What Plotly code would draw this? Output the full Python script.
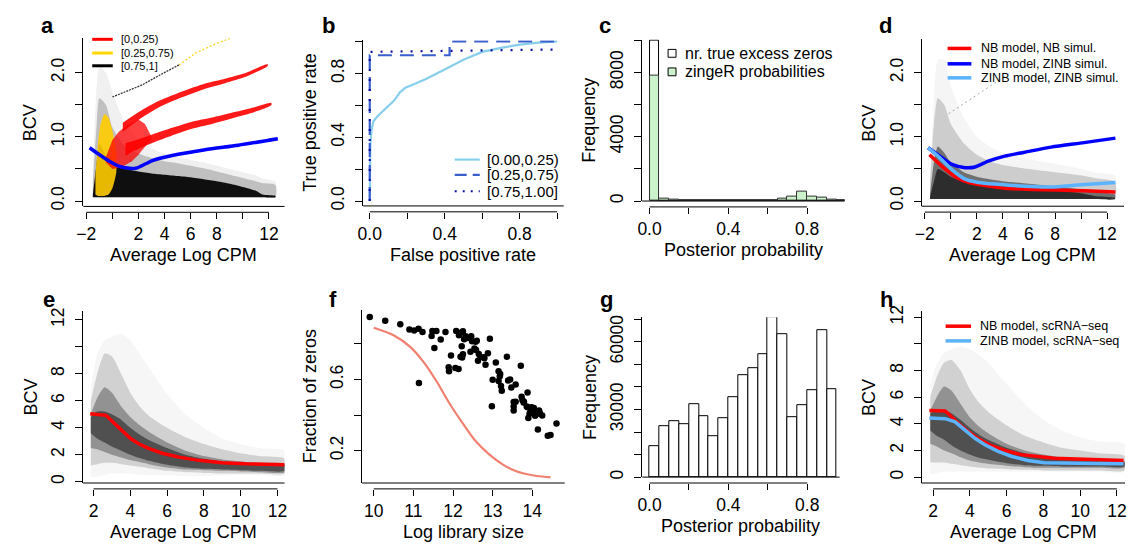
import plotly.graph_objects as go

W, H = 1128, 552
FONT = "Liberation Sans, Arial, sans-serif"
TICK = 17.5
TITLE = 18

# ---------------- data: panel a ----------------
a_fit_x = [-1.75, -0.99, -0.23, 0.53, 1.3, 1.8, 2.56, 3.06, 4.58, 7.11, 9.65, 12.68]
a_fit_y = [0.83, 0.72, 0.62, 0.54, 0.51, 0.51, 0.58, 0.63, 0.71, 0.80, 0.87, 0.97]
a_cloud_x = [-1.5, -1.2, -1.0, -0.5, 0, 1, 2, 3, 4, 5, 6, 7, 8, 9, 10, 11, 11.5, 12.5]
a_lo = [0.06, 0.06, 0.06, 0.06, 0.06, 0.06, 0.06, 0.06, 0.06, 0.06, 0.06, 0.06, 0.06, 0.06, 0.06, 0.06, 0.06, 0.06]
a_faint_hi = [0.5, 1.8, 2.1, 2.0, 1.7, 1.2, 0.95, 0.82, 0.74, 0.69, 0.64, 0.6, 0.55, 0.5, 0.45, 0.4, 0.35, 0.3]
a_halo_hi = [0.3, 1.2, 1.6, 1.5, 1.15, 0.85, 0.74, 0.67, 0.62, 0.59, 0.55, 0.51, 0.46, 0.41, 0.36, 0.31, 0.28, 0.25]
a_core_hi = [0.1, 0.6, 0.9, 0.7, 0.55, 0.5, 0.46, 0.43, 0.41, 0.39, 0.37, 0.34, 0.31, 0.27, 0.22, 0.16, 0.1, 0.08]
a_yel_x = [-1.3, -1.1, -0.9, -0.6, -0.3, 0.0, 0.3]
a_yel_lo = [0.1, 0.08, 0.08, 0.08, 0.1, 0.2, 0.45]
a_yel_hi = [0.4, 0.9, 1.2, 1.35, 1.3, 1.1, 0.75]
a_red_x = [-0.5, 0.0, 0.5, 1.0, 1.5, 2.0, 2.5, 3.0]
a_red_lo = [0.6, 0.5, 0.52, 0.56, 0.62, 0.72, 0.85, 0.97]
a_red_hi = [0.68, 0.95, 1.08, 1.16, 1.22, 1.27, 1.2, 1.0]
a_up_x = [0.8, 2.05, 3.57, 5.34, 7.11, 8.63, 10.15, 11.9]
a_up_c = [1.15, 1.33, 1.51, 1.66, 1.79, 1.87, 1.96, 2.12]
a_up_w = [0.07, 0.06, 0.05, 0.045, 0.04, 0.035, 0.03, 0.015]
a_lo_x = [1.0, 1.54, 3.06, 4.58, 6.1, 7.62, 9.14, 10.66, 12.18]
a_lo_c = [0.8, 0.85, 0.97, 1.08, 1.18, 1.25, 1.33, 1.41, 1.51]
a_lo_w = [0.1, 0.08, 0.065, 0.06, 0.055, 0.05, 0.045, 0.04, 0.02]
a_diag_x = [0.0, 1.0, 2.3, 3.7, 5.1]
a_diag_y = [1.62, 1.7, 1.81, 1.97, 2.12]
a_diag2_x = [5.1, 6.35, 7.7, 9.1]
a_diag2_y = [2.12, 2.30, 2.43, 2.54]
a_groups = ["[0,0.25)", "[0.25,0.75)", "[0.75,1]"]

# ---------------- data: panel b ----------------
b_low_fpr = [0, 0.003, 0.01, 0.02, 0.04, 0.07, 0.1, 0.13, 0.16, 0.19, 0.22, 0.3, 0.4, 0.5, 0.6, 0.7, 0.8, 0.9, 1.0]
b_low_tpr = [0, 0.35, 0.45, 0.5, 0.53, 0.565, 0.6, 0.63, 0.68, 0.71, 0.725, 0.765, 0.825, 0.885, 0.935, 0.96, 0.98, 0.993, 1.0]
b_mid_fpr = [0, 0, 0.426, 0.426, 1.0]
b_mid_tpr = [0, 0.914, 0.914, 1.0, 1.0]
b_high_fpr = [0, 0, 1.0]
b_high_tpr = [0, 0.935, 0.95]
b_groups = ["[0.00,0.25)", "[0.25,0.75)", "[0.75,1.00]"]

# ---------------- data: panel c ----------------
c_mid = [0.025, 0.075, 0.125, 0.175, 0.225, 0.275, 0.325, 0.375, 0.425, 0.475,
         0.525, 0.575, 0.625, 0.675, 0.725, 0.775, 0.825, 0.875, 0.925, 0.975]
c_true = [10000, 0, 0, 0, 0, 0, 0, 0, 0, 0, 0, 0, 0, 0, 0, 0, 0, 0, 0, 0]
c_zinger = [7800, 160, 60, 40, 30, 25, 25, 25, 25, 25, 25, 40, 50, 140, 285, 590, 245, 225, 80, 20]
c_names = ["nr. true excess zeros", "zingeR probabilities"]

# ---------------- data: panel d ----------------
d_cloud_x = [-1.6, -1.3, -1.0, -0.5, 0, 1, 2, 3, 4, 6, 8, 10, 11, 12.6]
d_lo = [0.03, 0.03, 0.03, 0.03, 0.03, 0.03, 0.03, 0.03, 0.03, 0.03, 0.03, 0.03, 0.03, 0.03]
d_dense_hi = [0.06, 0.3, 0.5, 0.45, 0.38, 0.3, 0.27, 0.25, 0.23, 0.2, 0.17, 0.12, 0.08, 0.05]
d_core_hi = [0.1, 0.6, 0.85, 0.75, 0.6, 0.45, 0.38, 0.34, 0.31, 0.27, 0.23, 0.18, 0.14, 0.1]
d_halo_hi = [0.3, 1.2, 1.6, 1.5, 1.2, 0.9, 0.72, 0.62, 0.56, 0.5, 0.45, 0.4, 0.36, 0.3]
d_faint_hi = [0.4, 1.6, 2.2, 2.2, 1.8, 1.3, 1.0, 0.85, 0.75, 0.65, 0.58, 0.5, 0.45, 0.4]
d_diag_x = [-0.17, 4.14]
d_diag_y = [1.36, 1.94]
d_nb_x = [-1.64, -0.68, 0.34, 1.35, 2.62, 4.14, 6.17, 8.2, 10.23, 12.64]
d_nb_y = [0.72, 0.54, 0.38, 0.29, 0.24, 0.20, 0.18, 0.17, 0.16, 0.14]
d_zi_x = [-1.75, -0.93, 0.08, 1.10, 1.86, 2.87, 4.14, 5.66, 7.70, 10.23, 12.64]
d_zi_y = [0.83, 0.71, 0.57, 0.52, 0.53, 0.62, 0.70, 0.76, 0.84, 0.91, 0.98]
d_zz_x = [-1.75, -0.93, 0.08, 1.10, 2.11, 3.63, 5.66, 7.70, 9.73, 12.64]
d_zz_y = [0.83, 0.69, 0.49, 0.34, 0.29, 0.26, 0.23, 0.22, 0.25, 0.29]
d_names = ["NB model, NB simul.", "NB model, ZINB simul.", "ZINB model, ZINB simul."]

# ---------------- data: panel e ----------------
e_x = [1.85, 2.2, 2.6, 3.0, 3.5, 4.0, 4.5, 5.0, 6.0, 7.0, 8.0, 9.0, 10.0, 11.0, 12.4]
e_faint_lo = [0.3, 0.4, 0.5, 0.6, 0.6, 0.6, 0.5, 0.5, 0.45, 0.4, 0.4, 0.45, 0.5, 0.5, 0.5]
e_faint_hi = [7.0, 9.5, 10.5, 10.8, 11.0, 10.5, 9.5, 8.5, 6.5, 5.0, 4.0, 3.2, 2.8, 2.5, 2.3]
e_mid_lo = [1.2, 1.3, 1.4, 1.4, 1.3, 1.2, 1.1, 1.0, 0.8, 0.7, 0.65, 0.6, 0.6, 0.6, 0.6]
e_mid_hi = [6.0, 8.0, 9.5, 9.3, 8.0, 6.6, 5.6, 4.9, 4.0, 3.3, 2.8, 2.4, 2.1, 1.9, 1.7]
e_core_lo = [2.5, 2.4, 2.2, 2.0, 1.8, 1.6, 1.45, 1.3, 1.05, 0.9, 0.85, 0.8, 0.75, 0.7, 0.7]
e_core_hi = [5.0, 6.2, 7.0, 6.6, 5.6, 4.8, 4.2, 3.7, 2.9, 2.3, 1.9, 1.65, 1.5, 1.4, 1.3]
e_dense_lo = [3.6, 3.2, 2.9, 2.6, 2.3, 2.0, 1.75, 1.55, 1.25, 1.05, 0.95, 0.9, 0.85, 0.8, 0.8]
e_dense_hi = [4.8, 5.2, 5.2, 5.0, 4.6, 4.0, 3.5, 3.1, 2.5, 2.0, 1.7, 1.5, 1.4, 1.3, 1.25]
e_fit_x = [1.82, 2.68, 3.04, 3.58, 4.03, 4.48, 5.02, 5.74, 6.64, 7.72, 8.98, 10.24, 11.32, 12.40]
e_fit_y = [5.04, 4.92, 4.44, 3.71, 3.18, 2.79, 2.45, 2.11, 1.82, 1.58, 1.41, 1.33, 1.28, 1.26]

# ---------------- data: panel f ----------------
f_lib = [9.90, 10.29, 10.67, 10.90, 11.02, 11.13, 11.23, 11.46, 11.48, 11.58, 11.81, 11.69, 11.53, 11.14,
         11.89, 11.95, 12.08, 12.15, 12.19, 12.25, 12.28, 12.32, 12.36, 12.46, 12.48, 12.22, 12.19, 12.23,
         12.25, 12.44, 12.54, 12.57, 12.60, 12.58, 12.63, 12.65, 12.69, 12.78, 12.79, 12.82, 12.88, 12.93,
         12.06, 12.14, 11.90, 13.00, 13.08, 13.15, 13.15, 13.19, 13.18, 13.21, 13.23, 13.36, 13.39, 13.44,
         13.47, 13.58, 13.53, 13.53, 13.53, 13.58, 13.71, 13.73, 13.75, 13.78, 13.79, 13.88, 13.86, 13.90,
         13.93, 13.96, 13.98, 14.02, 14.04, 14.07, 14.08, 14.13, 14.14, 14.17, 14.19, 14.25, 12.98, 14.39,
         14.46, 14.61, 13.88]
f_zero = [0.95, 0.93, 0.91, 0.88, 0.875, 0.884, 0.866, 0.844, 0.872, 0.872, 0.866, 0.824, 0.776, 0.580,
          0.668, 0.734, 0.872, 0.848, 0.862, 0.870, 0.826, 0.842, 0.833, 0.842, 0.815, 0.787, 0.728, 0.723,
          0.741, 0.756, 0.774, 0.811, 0.817, 0.765, 0.705, 0.743, 0.728, 0.725, 0.719, 0.683, 0.747, 0.829,
          0.664, 0.659, 0.646, 0.598, 0.695, 0.646, 0.591, 0.631, 0.618, 0.563, 0.536, 0.728, 0.594, 0.600,
          0.554, 0.572, 0.473, 0.448, 0.426, 0.475, 0.677, 0.503, 0.484, 0.470, 0.475, 0.527, 0.448, 0.383,
          0.407, 0.426, 0.444, 0.440, 0.439, 0.396, 0.422, 0.407, 0.319, 0.426, 0.411, 0.398, 0.450, 0.284,
          0.288, 0.352, 0.444]
f_fit_x = [10.0, 10.5, 10.92, 11.25, 11.58, 11.92, 12.25, 12.58, 12.92, 13.25, 13.58, 14.0, 14.46]
f_fit_y = [0.890, 0.848, 0.783, 0.70, 0.591, 0.462, 0.352, 0.251, 0.178, 0.123, 0.086, 0.062, 0.05]

# ---------------- data: panel g ----------------
g_mid = [0.025, 0.075, 0.125, 0.175, 0.225, 0.275, 0.325, 0.375, 0.425, 0.475,
         0.525, 0.575, 0.625, 0.675, 0.725, 0.775, 0.825, 0.875, 0.925]
g_count = [13600, 22750, 24930, 23480, 32320, 26960, 17970, 25940, 35360, 45220,
           48410, 54490, 70870, 63330, 26670, 31740, 38410, 65070, 38840]

# ---------------- data: panel h ----------------
h_x = [1.85, 2.2, 2.6, 3.0, 3.5, 4.0, 4.5, 5.0, 6.0, 7.0, 8.0, 9.0, 10.0, 11.0, 12.4]
h_faint_lo = [0.2, 0.3, 0.4, 0.4, 0.4, 0.4, 0.4, 0.4, 0.4, 0.4, 0.4, 0.4, 0.4, 0.4, 0.4]
h_faint_hi = [7.0, 8.5, 9.3, 9.6, 9.8, 9.6, 9.2, 8.6, 7.0, 5.5, 4.3, 3.5, 3.0, 2.7, 2.5]
h_mid_lo = [1.1, 1.1, 1.1, 1.0, 0.9, 0.8, 0.7, 0.65, 0.6, 0.55, 0.5, 0.5, 0.5, 0.5, 0.5]
h_mid_hi = [6.0, 7.5, 8.6, 8.8, 8.0, 6.6, 5.6, 4.9, 3.9, 3.1, 2.6, 2.2, 2.0, 1.8, 1.6]
h_core_lo = [2.5, 2.3, 2.0, 1.8, 1.5, 1.25, 1.1, 1.0, 0.85, 0.75, 0.7, 0.7, 0.7, 0.7, 0.7]
h_core_hi = [5.0, 6.0, 6.8, 6.5, 5.5, 4.5, 3.8, 3.3, 2.5, 2.0, 1.7, 1.5, 1.4, 1.3, 1.2]
h_dense_lo = [3.5, 3.1, 2.8, 2.4, 2.0, 1.7, 1.45, 1.3, 1.05, 0.9, 0.85, 0.8, 0.8, 0.8, 0.8]
h_dense_hi = [4.8, 5.0, 5.0, 4.8, 4.3, 3.7, 3.2, 2.8, 2.2, 1.8, 1.5, 1.35, 1.3, 1.2, 1.15]
h_nb_x = [1.80, 2.66, 2.84, 3.38, 3.92, 4.46, 5.18, 5.90, 6.79, 7.69, 8.59, 9.85, 11.28, 12.36]
h_nb_y = [5.0, 4.96, 4.76, 4.02, 3.41, 2.87, 2.36, 2.01, 1.69, 1.55, 1.42, 1.37, 1.28, 1.25]
h_zi_x = [1.80, 2.66, 3.2, 3.74, 4.28, 4.82, 5.54, 6.25, 7.15, 8.05, 9.49, 10.92, 12.36]
h_zi_y = [4.44, 4.39, 4.15, 3.53, 2.92, 2.43, 1.94, 1.57, 1.25, 1.08, 1.03, 1.03, 1.0]
h_names = ["NB model, scRNA\u2212seq", "ZINB model, scRNA\u2212seq"]

# ---------------- ticks / titles ----------------
cpm_ticks = [-2, 0, 2, 4, 6, 8, 10, 12]
cpm_labels = ["\u22122", "", "2", "4", "6", "8", "", "12"]
bcv_ticks = [0, 0.5, 1, 1.5, 2]
bcv_labels = ["0.0", "", "1.0", "", "2.0"]
rate_ticks = [0, 0.2, 0.4, 0.6, 0.8, 1.0]
rate_labels = ["0.0", "", "0.4", "", "0.8", ""]
prob_ticks = [0, 0.2, 0.4, 0.6, 0.8]
prob_labels = ["0.0", "", "0.4", "", "0.8"]
c_freq_ticks = [0, 2000, 4000, 6000, 8000, 10000]
c_freq_labels = ["0", "", "4000", "", "8000", ""]
sc_cpm_ticks = [2, 4, 6, 8, 10, 12]
sc_cpm_labels = ["2", "4", "6", "8", "10", "12"]
sc_bcv_ticks = [0, 2, 4, 6, 8, 10, 12]
sc_bcv_labels = ["0", "2", "4", "6", "8", "", "12"]
lib_ticks = [10, 11, 12, 13, 14]
lib_labels = ["10", "11", "12", "13", "14"]
zero_ticks = [0.2, 0.4, 0.6, 0.8]
zero_labels = ["0.2", "", "0.6", ""]
g_freq_ticks = [0, 10000, 20000, 30000, 40000, 50000, 60000, 70000]
g_freq_labels = ["0", "", "", "30000", "", "", "60000", ""]

# ---------------- panel geometry (pixels: left, right, top, bottom) ----------------
PANELS = [
    dict(n=1, letter="a", box=(77, 280, 33, 204.5), xr=[-2.228, 13.193], yr=[-0.084, 2.534],
         xt=cpm_ticks, xl=cpm_labels, yt=bcv_ticks, yl=bcv_labels, xtitle="Average Log CPM", ytitle="BCV"),
    dict(n=2, letter="b", box=(359.3, 561.7, 35, 204), xr=[-0.0354, 1.035], yr=[-0.0305, 1.0076],
         xt=rate_ticks, xl=rate_labels, yt=rate_ticks, yl=rate_labels, xtitle="False positive rate", ytitle="True positive rate"),
    dict(n=3, letter="c", box=(640.7, 845, 34.3, 199), xr=[-0.0382, 0.990], yr=[0, 10034],
         xt=prob_ticks, xl=prob_labels, yt=c_freq_ticks, yl=c_freq_labels, xtitle="Posterior probability", ytitle="Frequency"),
    dict(n=4, letter="d", box=(922.7, 1127, 34, 204.3), xr=[-2.251, 13.3], yr=[-0.081, 2.519],
         xt=cpm_ticks, xl=cpm_labels, yt=bcv_ticks, yl=bcv_labels, xtitle="Average Log CPM", ytitle="BCV"),
    dict(n=5, letter="e", box=(76.7, 280, 311, 486.7), xr=[1.428, 12.38], yr=[-0.1, 12.68],
         xt=sc_cpm_ticks, xl=sc_cpm_labels, yt=sc_bcv_ticks, yl=sc_bcv_labels, xtitle="Average Log CPM", ytitle="BCV"),
    dict(n=6, letter="f", box=(358.3, 562.7, 310.3, 486.7), xr=[9.7075, 14.8175], yr=[0.0183, 0.9893],
         xt=lib_ticks, xl=lib_labels, yt=zero_ticks, yl=zero_labels, xtitle="Log library size", ytitle="Fraction of zeros"),
    dict(n=7, letter="g", box=(641, 840, 317.5, 480.7), xr=[-0.0367, 0.964], yr=[0, 70950],
         xt=prob_ticks, xl=prob_labels, yt=g_freq_ticks, yl=g_freq_labels, xtitle="Posterior probability", ytitle="Frequency"),
    dict(n=8, letter="h", box=(922.7, 1128, 311, 486.7), xr=[1.375, 12.44], yr=[-0.44, 12.49],
         xt=sc_cpm_ticks, xl=sc_cpm_labels, yt=sc_bcv_ticks, yl=sc_bcv_labels, xtitle="Average Log CPM", ytitle="BCV"),
]
GAP = 6  # x-axis line offset below the box

fig = go.Figure()


def axn(n):
    return ("x" if n == 1 else f"x{n}"), ("y" if n == 1 else f"y{n}")


def band(n, xs, lo, hi, color, shape="spline"):
    xa, ya = axn(n)
    ln = dict(width=0, shape=shape)
    if shape == "spline":
        ln["smoothing"] = 0.6
    fig.add_trace(go.Scatter(x=list(xs) + list(xs)[::-1], y=list(hi) + list(lo)[::-1],
                             mode="lines", line=ln, fill="toself", fillcolor=color,
                             hoverinfo="skip", showlegend=False, xaxis=xa, yaxis=ya))


def ribbon(n, xs, c, w, color):
    band(n, xs, [ci - wi for ci, wi in zip(c, w)], [ci + wi for ci, wi in zip(c, w)], color)


def curve(n, xs, ys, color, width, dash="solid", shape="linear", smoothing=1.0):
    xa, ya = axn(n)
    ln = dict(color=color, width=width, dash=dash, shape=shape)
    if shape == "spline":
        ln["smoothing"] = smoothing
    fig.add_trace(go.Scatter(x=xs, y=ys, mode="lines", line=ln, hoverinfo="skip",
                             showlegend=False, xaxis=xa, yaxis=ya))


# ---- panel a ----
band(1, a_cloud_x, a_lo, a_faint_hi, "rgba(0,0,0,0.06)")
band(1, a_cloud_x, a_lo, a_halo_hi, "rgba(0,0,0,0.2)")
band(1, a_cloud_x, a_lo, a_core_hi, "rgba(0,0,0,0.92)")
band(1, a_yel_x, a_yel_lo, a_yel_hi, "rgba(255,205,0,0.9)")
band(1, a_red_x, a_red_lo, a_red_hi, "rgba(255,0,0,0.75)", shape="linear")
ribbon(1, a_up_x, a_up_c, a_up_w, "rgba(255,0,0,0.9)")
ribbon(1, a_lo_x, a_lo_c, a_lo_w, "rgba(255,0,0,0.9)")
curve(1, a_diag_x, a_diag_y, "rgba(0,0,0,0.8)", 1.3, dash="2px,1px")
curve(1, a_diag2_x, a_diag2_y, "rgba(255,205,0,0.9)", 1.3, dash="2px,2px")
curve(1, a_fit_x, a_fit_y, "#0000FF", 3.5, shape="spline", smoothing=0.7)

# ---- panel b ----
curve(2, b_low_fpr, b_low_tpr, "#87CEEB", 2.2)
curve(2, b_mid_fpr, b_mid_tpr, "#3A5FCD", 2.2, dash="14px,8px")
curve(2, b_high_fpr, b_high_tpr, "#1010A0", 2.2, dash="2px,8px")

# ---- panel c ----
fig.add_trace(go.Bar(x=c_mid, y=c_true, width=0.05, marker=dict(color="white", line=dict(color="black", width=1)),
                     xaxis="x3", yaxis="y3", showlegend=False, hoverinfo="skip"))
fig.add_trace(go.Bar(x=c_mid, y=c_zinger, width=0.05, marker=dict(color="#CCF2CC", line=dict(color="#333333", width=1)),
                     xaxis="x3", yaxis="y3", showlegend=False, hoverinfo="skip"))

# ---- panel d ----
band(4, d_cloud_x, d_lo, d_faint_hi, "rgba(0,0,0,0.04)")
band(4, d_cloud_x, d_lo, d_halo_hi, "rgba(0,0,0,0.16)")
band(4, d_cloud_x, d_lo, d_core_hi, "rgba(0,0,0,0.45)")
band(4, d_cloud_x, d_lo, d_dense_hi, "rgba(0,0,0,0.6)")
curve(4, d_diag_x, d_diag_y, "rgba(0,0,0,0.35)", 1, dash="2px,3px")
curve(4, d_nb_x, d_nb_y, "#FF0000", 3.5, shape="spline", smoothing=0.7)
curve(4, d_zi_x, d_zi_y, "#0000FF", 3.5, shape="spline", smoothing=0.7)
curve(4, d_zz_x, d_zz_y, "#5CB3FF", 3.5, shape="spline", smoothing=0.7)

# ---- panel e ----
band(5, e_x, e_faint_lo, e_faint_hi, "rgba(0,0,0,0.035)")
band(5, e_x, e_mid_lo, e_mid_hi, "rgba(0,0,0,0.15)")
band(5, e_x, e_core_lo, e_core_hi, "rgba(0,0,0,0.3)")
band(5, e_x, e_dense_lo, e_dense_hi, "rgba(0,0,0,0.45)")
curve(5, e_fit_x, e_fit_y, "#FF0000", 3.5)

# ---- panel f ----
curve(6, f_fit_x, f_fit_y, "#F08070", 2.2, shape="spline", smoothing=0.8)
fig.add_trace(go.Scatter(x=f_lib, y=f_zero, mode="markers", marker=dict(color="black", size=6.5),
                         xaxis="x6", yaxis="y6", showlegend=False, hoverinfo="skip"))

# ---- panel g ----
fig.add_trace(go.Bar(x=g_mid, y=g_count, width=0.05, marker=dict(color="white", line=dict(color="black", width=1)),
                     xaxis="x7", yaxis="y7", showlegend=False, hoverinfo="skip"))

# ---- panel h ----
band(8, h_x, h_faint_lo, h_faint_hi, "rgba(0,0,0,0.035)")
band(8, h_x, h_mid_lo, h_mid_hi, "rgba(0,0,0,0.15)")
band(8, h_x, h_core_lo, h_core_hi, "rgba(0,0,0,0.3)")
band(8, h_x, h_dense_lo, h_dense_hi, "rgba(0,0,0,0.45)")
curve(8, h_nb_x, h_nb_y, "#FF0000", 3.5)
curve(8, h_zi_x, h_zi_y, "#5CB3FF", 3.5)

# ---------------- layout ----------------
layout = dict(width=W, height=H, margin=dict(l=0, r=0, t=0, b=0, pad=0), paper_bgcolor="white",
              plot_bgcolor="rgba(0,0,0,0)", showlegend=False, barmode="overlay", bargap=0,
              font=dict(family=FONT, color="black"))
shapes, annotations = [], []


def py(y):
    return 1 - y / H


def pxf(x):
    return x / W


for p in PANELS:
    n = p["n"]
    l, r, t, b = p["box"]
    xa, ya = axn(n)
    xk = "xaxis" if n == 1 else f"xaxis{n}"
    yk = "yaxis" if n == 1 else f"yaxis{n}"
    layout[xk] = dict(domain=[l / W, r / W], range=p["xr"], anchor="free", position=py(b + GAP),
                      showline=False, showgrid=False, zeroline=False, ticks="outside", ticklen=6,
                      tickwidth=1, tickcolor="black", tickmode="array", tickvals=p["xt"], ticktext=p["xl"],
                      tickfont=dict(size=TICK, family=FONT, color="black"))
    layout[yk] = dict(domain=[py(b), py(t)], range=p["yr"], anchor=xa, showline=True, linecolor="black",
                      linewidth=1, showgrid=False, zeroline=False, ticks="outside", ticklen=7, tickwidth=1,
                      tickcolor="black", tickmode="array", tickvals=p["yt"], ticktext=p["yl"], tickangle=-90,
                      ticklabelstandoff=4, tickfont=dict(size=TICK, family=FONT, color="black"))
    shapes.append(dict(type="line", xref=f"{xa} domain", yref=f"{ya} domain", x0=0, x1=1, y0=0, y1=0,
                       line=dict(color="black", width=1)))
    shapes.append(dict(type="line", xref=xa, yref="paper", x0=p["xt"][0], x1=p["xt"][-1],
                       y0=py(b + GAP), y1=py(b + GAP), line=dict(color="black", width=1)))
    annotations.append(dict(text=p["xtitle"], x=pxf((l + r) / 2), y=py(b + 50), xref="paper", yref="paper",
                            xanchor="center", yanchor="middle", showarrow=False,
                            font=dict(size=TITLE, family=FONT, color="black")))
    annotations.append(dict(text=p["ytitle"], x=pxf(l - 53), y=py((t + b) / 2), xref="paper", yref="paper",
                            xanchor="center", yanchor="middle", textangle=-90, showarrow=False,
                            font=dict(size=TITLE, family=FONT, color="black")))

letter_pos = {"a": (41, 19.5), "b": (324, 19.5), "c": (603, 19.5), "d": (886, 19.5),
              "e": (42, 299.5), "f": (329, 299.5), "g": (605, 299.5), "h": (887, 299.5)}
for p in PANELS:
    lx, ly = letter_pos[p["letter"]]
    annotations.append(dict(text="<b>%s</b>" % p["letter"], x=pxf(lx), y=py(ly), xref="paper", yref="paper",
                            xanchor="center", yanchor="middle", showarrow=False,
                            font=dict(size=22, family=FONT, color="black")))


def legend_line(x0, x1, y, color, width, dash, label, tx, size):
    shapes.append(dict(type="line", xref="paper", yref="paper", x0=pxf(x0), x1=pxf(x1), y0=py(y), y1=py(y),
                       line=dict(color=color, width=width, dash=dash)))
    annotations.append(dict(text=label, x=pxf(tx), y=py(y), xref="paper", yref="paper", xanchor="left",
                            yanchor="middle", showarrow=False, font=dict(size=size, family=FONT, color="black")))


# legend a
for label, col, yy in zip(a_groups, ["#FF0000", "#FFD700", "#000000"], [34, 48, 61]):
    legend_line(86, 106.7, yy, col, 3, "solid", label, 113, 11)
# legend b
for label, col, dsh, yy in zip(b_groups, ["#87CEEB", "#3A5FCD", "#1010A0"], ["solid", "12px,6px", "2px,6px"],
                               [156.7, 172.3, 189]):
    legend_line(451.7, 477, yy, col, 2.2, dsh, label, 482, 15)
# legend c
for label, col, yy in zip(c_names, ["white", "#CCF2CC"], [48.3, 67.2]):
    shapes.append(dict(type="rect", xref="paper", yref="paper", x0=pxf(667), x1=pxf(675), y0=py(yy + 4),
                       y1=py(yy - 4), line=dict(color="black", width=1), fillcolor=col))
    annotations.append(dict(text=label, x=pxf(682), y=py(yy), xref="paper", yref="paper", xanchor="left",
                            yanchor="middle", showarrow=False, font=dict(size=16, family=FONT, color="black")))
# legend d
for label, col, yy in zip(d_names, ["#FF0000", "#0000FF", "#5CB3FF"], [43.3, 59, 73.3]):
    legend_line(949, 973, yy, col, 3.5, "solid", label, 981, 12.5)
# legend h
for label, col, yy in zip(h_names, ["#FF0000", "#5CB3FF"], [326.7, 341.7]):
    legend_line(947, 972.7, yy, col, 3.5, "solid", label, 980, 12.5)

layout["shapes"] = shapes
layout["annotations"] = annotations
fig.update_layout(**layout)

fig.write_html("out.html", config={"displayModeBar": False},
               post_script="document.body.style.margin='0';document.body.style.overflow='hidden';")
